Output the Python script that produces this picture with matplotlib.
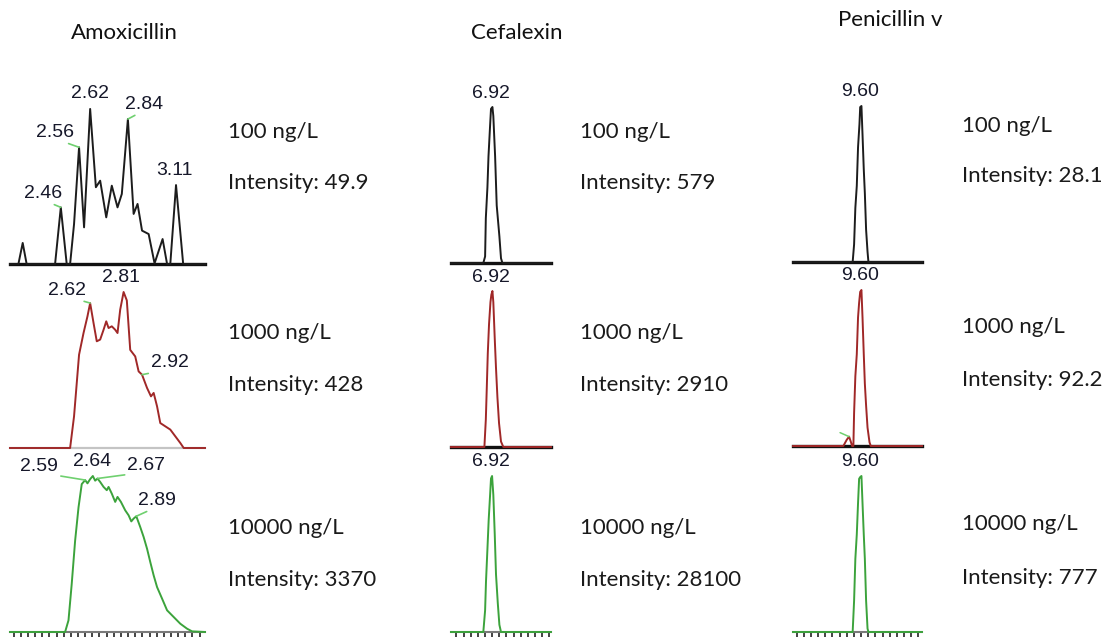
import numpy as np
import matplotlib.pyplot as plt
from matplotlib.ticker import MultipleLocator

W, H = 1108, 637

compounds = ['Amoxicillin', 'Cefalexin', 'Penicillin v']
levels = ['100 ng/L', '1000 ng/L', '10000 ng/L']
intensity = [['49.9', '428', '3370'],
             ['579', '2910', '28100'],
             ['28.1', '92.2', '777']]
xlims = [(2.18, 3.27), (6.69, 7.25), (9.22, 9.94)]

# Amoxicillin traces (retention time, min / relative intensity, %)
amox_100_t = [2.18, 2.227, 2.251, 2.273, 2.432, 2.464, 2.497, 2.516, 2.538, 2.566, 2.594,
              2.628, 2.660, 2.684, 2.718, 2.749, 2.781, 2.805, 2.839, 2.871, 2.893, 2.918,
              2.955, 2.988, 3.033, 3.058, 3.076, 3.108, 3.148, 3.27]
amox_100_i = [0, 0, 13.5, 0, 0, 36.3, 0, 0, 25.6, 74.8, 23.5, 99.4, 49.2, 53.4, 29.9, 50.2,
              36.3, 44.9, 92.9, 32.1, 38.5, 21.4, 19.2, 0.4, 16, 0, 0, 50.6, 0, 0]
amox_1000_t = [2.18, 2.516, 2.538, 2.566, 2.591, 2.613, 2.628, 2.647, 2.665, 2.684, 2.703,
               2.718, 2.731, 2.749, 2.768, 2.781, 2.796, 2.815, 2.833, 2.852, 2.880, 2.899,
               2.918, 2.946, 2.968, 2.983, 3.002, 3.020, 3.048, 3.076, 3.104, 3.132, 3.151, 3.27]
amox_1000_i = [0, 0, 20.3, 59.8, 73.7, 84.4, 92.9, 80.1, 68.4, 69.5, 75.8, 81.2, 76.9, 78.0,
               75.8, 73.7, 88.7, 100, 94.6, 62.9, 58.7, 49.1, 47, 38.5, 33.1, 35.3, 26.7, 16,
               13.9, 11.8, 7.5, 3.2, 0, 0]
amox_10000_t = [2.18, 2.488, 2.507, 2.525, 2.544, 2.563, 2.581, 2.600, 2.613, 2.628, 2.643,
                2.656, 2.669, 2.684, 2.703, 2.721, 2.731, 2.749, 2.768, 2.781, 2.800, 2.824,
                2.843, 2.858, 2.871, 2.886, 2.908, 2.927, 2.946, 2.964, 2.983, 3.002, 3.030,
                3.058, 3.095, 3.132, 3.170, 3.198, 3.27]
amox_10000_i = [0, 0, 7.5, 30.8, 58.5, 79.9, 94.8, 97.4, 95.3, 98.0, 100, 97.0, 98.4, 96.2,
                93.0, 90.9, 93.0, 88.7, 83.4, 86.6, 83.4, 78.0, 74.8, 70.9, 72.7, 74.2, 67.3,
                60.9, 53.4, 44.9, 36.3, 28.8, 21.4, 13.9, 9.6, 5.3, 2.1, 0.4, 0]

# Cefalexin traces
cef_100_t = [6.69, 6.871, 6.881, 6.885, 6.894, 6.900, 6.909, 6.914, 6.922, 6.927, 6.937,
             6.946, 6.961, 6.970, 6.978, 7.25]
cef_100_i = [0, 0, 4.2, 28.7, 48.6, 68.5, 88.3, 98.8, 100, 94.2, 68.5, 36.9, 17.1, 3, 0, 0]
cef_1000_t = [6.69, 6.877, 6.885, 6.890, 6.896, 6.903, 6.911, 6.916, 6.922, 6.927, 6.935,
              6.942, 6.950, 6.959, 6.970, 6.983, 7.25]
cef_1000_i = [0, 0, 17.6, 36.5, 60, 78.8, 92.9, 97.6, 100, 92.9, 69.4, 50.6, 31.8, 15.3,
              3.5, 0, 0]
cef_10000_t = [6.69, 6.871, 6.881, 6.886, 6.894, 6.901, 6.909, 6.914, 6.920, 6.927, 6.935,
               6.942, 6.952, 6.961, 6.970, 7.25]
cef_10000_i = [0, 0, 13.9, 32.4, 53.2, 71.8, 88, 98.4, 100, 88, 62.5, 37, 18.5, 4.6, 0, 0]

# Penicillin V traces
pen_100_t = [9.22, 9.553, 9.561, 9.568, 9.576, 9.583, 9.591, 9.595, 9.602, 9.608, 9.615,
             9.621, 9.628, 9.636, 9.641, 9.94]
pen_100_i = [0, 0, 11.3, 34.7, 48.8, 73.5, 88.5, 99.3, 100, 81.7, 59.4, 44.1, 20.7, 6.6, 0, 0]
pen_1000_t = [9.22, 9.501, 9.520, 9.533, 9.542, 9.550, 9.557, 9.561, 9.568, 9.576, 9.583,
              9.589, 9.595, 9.602, 9.608, 9.615, 9.621, 9.628, 9.636, 9.647, 9.654, 9.94]
pen_1000_i = [0, 0, 4, 6, 3, 0, 0, 21.2, 44.7, 58.8, 82.4, 91.8, 98.8, 100, 82.4, 58.8, 40,
              25.9, 11.8, 2.4, 0, 0]
pen_10000_t = [9.22, 9.553, 9.561, 9.568, 9.576, 9.583, 9.589, 9.595, 9.602, 9.608, 9.615,
               9.621, 9.628, 9.636, 9.641, 9.94]
pen_10000_i = [0, 0, 20.1, 46.9, 62.5, 82.6, 98.2, 99.3, 100, 82.6, 62.5, 46.9, 20.1, 2.2, 0, 0]

traces = [[(amox_100_t, amox_100_i), (amox_1000_t, amox_1000_i), (amox_10000_t, amox_10000_i)],
          [(cef_100_t, cef_100_i), (cef_1000_t, cef_1000_i), (cef_10000_t, cef_10000_i)],
          [(pen_100_t, pen_100_i), (pen_1000_t, pen_1000_i), (pen_10000_t, pen_10000_i)]]

# peak labels per compound / level
amox_peaks = [['2.46', '2.56', '2.62', '2.84', '3.11'],
              ['2.62', '2.81', '2.92'],
              ['2.59', '2.64', '2.67', '2.89']]
cef_peaks = [['6.92'], ['6.92'], ['6.92']]
pen_peaks = [['9.60'], ['9.60'], ['9.60']]
peaks = [amox_peaks, cef_peaks, pen_peaks]

# ---- layout / style ----
colors = ['#1c1c1c', '#a02828', '#3ca33c']
leader = '#6fd06f'
label_col = '#16182a'
col_left = [10, 451, 793]
col_width = [195, 100, 129]
baselines = [[264, 448, 632], [263, 447, 632], [262, 446, 632]]
panel_h = 156
label_offsets = [
    [[(-18, 14), (-24, 15), (0, 15), (16, 15), (-2, 15)],
     [(-23, 13), (-3, 15), (28, 12)],
     [(-46, 14), (-1, 14), (49, 13), (21, 16)]],
    [[(-1, 13)], [(-1, 14)], [(-1, 14)]],
    [[(-1, 15)], [(-1, 15)], [(-1, 15)]],
]
spine_style = [[('#111111', 2.4), ('#111111', 2.4), ('#111111', 2.4)],
               [('#c4c4c4', 1.6), ('#111111', 2.4), ('#111111', 2.4)],
               [('#7a7a7a', 1.5), ('#7a7a7a', 1.5), ('#7a7a7a', 1.5)]]
title_pos = [(124, 33), (517, 33), (890, 20)]
text_left = [228, 580, 962]
text_y = [[(132, 183), (333, 385), (528, 580)],
          [(132, 183), (333, 385), (528, 580)],
          [(126, 176), (327, 380), (524, 578)]]


def draw_panel(ax, t, inten, color, labels, offsets, xlim, spine, bottom, major):
    t = np.asarray(t)
    inten = np.asarray(inten)
    ax.plot(t, inten, color=color, lw=1.4, clip_on=False, zorder=3)
    ax.set_xlim(xlim)
    ax.set_ylim(0, 100)
    ax.patch.set_visible(False)
    for s in ['top', 'left', 'right']:
        ax.spines[s].set_visible(False)
    ax.spines['bottom'].set_color(spine[0])
    ax.spines['bottom'].set_linewidth(spine[1])
    ax.set_yticks([])
    if bottom:
        ax.xaxis.set_major_locator(MultipleLocator(0.2))
        ax.xaxis.set_minor_locator(MultipleLocator(0.04))
        ax.tick_params(axis='x', which='major', length=major, width=1.1, color='#111111',
                       labelbottom=False)
        ax.tick_params(axis='x', which='minor', length=3.6, width=1.1, color='#111111')
    else:
        ax.set_xticks([])
    for lab, (dx, dy) in zip(labels, offsets):
        rt = float(lab)
        idx = np.flatnonzero(np.abs(t - rt) <= 0.012)
        k = idx[np.argmax(inten[idx])]
        arrow = None
        if abs(dx) > 5:
            arrow = dict(arrowstyle='-', color=leader, lw=1.2, relpos=(0.5, 0.12),
                         shrinkA=0, shrinkB=0)
        ax.annotate(lab, xy=(t[k], inten[k]), xytext=(dx, dy), textcoords='offset pixels',
                    ha='center', va='center', fontsize=14, family='Liberation Sans',
                    color=label_col, arrowprops=arrow, annotation_clip=False, zorder=4)


def main():
    fig = plt.figure(figsize=(W / 100, H / 100), dpi=100)
    for c in range(3):
        for r in range(3):
            base = baselines[c][r]
            ax = fig.add_axes([col_left[c] / W, 1 - base / H, col_width[c] / W, panel_h / H])
            t, inten = traces[c][r]
            draw_panel(ax, t, inten, colors[r], peaks[c][r], label_offsets[c][r], xlims[c],
                       spine_style[r][c], r == 2, 6.5 if c == 2 else 3.6)
            if c == 2 and r == 1:
                # small unlabelled shoulder before the main peak
                ax.annotate('', xy=(t[3], inten[3]), xytext=(-9, 4), textcoords='offset pixels',
                            arrowprops=dict(arrowstyle='-', color=leader, lw=1.1,
                                            shrinkA=0, shrinkB=0), annotation_clip=False)
            ty1, ty2 = text_y[c][r]
            fig.text(text_left[c] / W, 1 - ty1 / H, levels[r], fontsize=16, family='Lato',
                     va='center', ha='left', color='#1a1a1a')
            fig.text(text_left[c] / W, 1 - ty2 / H, 'Intensity: ' + intensity[c][r],
                     fontsize=16, family='Lato', va='center', ha='left', color='#1a1a1a')
        fig.text(title_pos[c][0] / W, 1 - title_pos[c][1] / H, compounds[c], fontsize=16,
                 family='Lato', va='center', ha='center', color='#111111')
    fig.savefig('out.png', dpi=100)


if __name__ == "__main__":
    main()
